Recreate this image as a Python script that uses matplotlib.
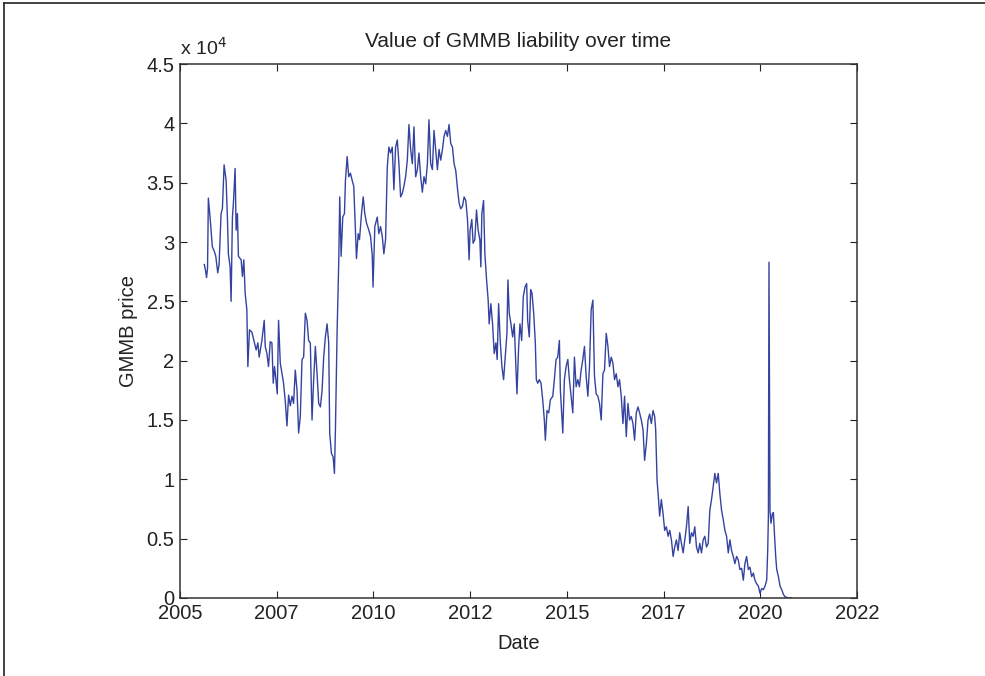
import matplotlib
matplotlib.use("Agg")
from matplotlib import pyplot as plt
from matplotlib.lines import Line2D
from matplotlib.ticker import FuncFormatter

plt.rcParams['font.family'] = ['Liberation Sans', 'DejaVu Sans']

# weekly-ish GMMB liability values, date in decimal years, value in units of 1e4
dates = [
    2005.630, 2005.661, 2005.687, 2005.713, 2005.734, 2005.778, 2005.837, 2005.889, 2005.926, 2005.977,
    2006.011, 2006.063, 2006.097, 2006.141, 2006.193, 2006.226, 2006.252, 2006.296, 2006.322, 2006.356,
    2006.382, 2006.426, 2006.452, 2006.486, 2006.511, 2006.581, 2006.615, 2006.651, 2006.685, 2006.729,
    2006.755, 2006.797, 2006.859, 2006.926, 2006.970, 2007.014, 2007.048, 2007.118, 2007.178, 2007.204,
    2007.248, 2007.289, 2007.333, 2007.377, 2007.411, 2007.445, 2007.481, 2007.515, 2007.549, 2007.593,
    2007.637, 2007.678, 2007.722, 2007.766, 2007.808, 2007.852, 2007.896, 2007.937, 2007.981, 2008.026,
    2008.067, 2008.111, 2008.155, 2008.197, 2008.241, 2008.285, 2008.326, 2008.370, 2008.414, 2008.456,
    2008.500, 2008.544, 2008.586, 2008.630, 2008.674, 2008.715, 2008.759, 2008.803, 2008.845, 2008.871,
    2008.915, 2008.959, 2008.993, 2009.019, 2009.063, 2009.104, 2009.130, 2009.166, 2009.208, 2009.252,
    2009.278, 2009.322, 2009.363, 2009.407, 2009.451, 2009.493, 2009.537, 2009.563, 2009.607, 2009.641,
    2009.693, 2009.737, 2009.778, 2009.822, 2009.882, 2009.926, 2009.970, 2009.991, 2010.037, 2010.100,
    2010.141, 2010.185, 2010.229, 2010.271, 2010.315, 2010.359, 2010.400, 2010.444, 2010.488, 2010.530,
    2010.574, 2010.618, 2010.660, 2010.704, 2010.748, 2010.789, 2010.833, 2010.877, 2010.919, 2010.963,
    2011.007, 2011.049, 2011.093, 2011.137, 2011.178, 2011.222, 2011.266, 2011.308, 2011.352, 2011.396,
    2011.437, 2011.481, 2011.525, 2011.567, 2011.611, 2011.655, 2011.697, 2011.741, 2011.785, 2011.826,
    2011.870, 2011.914, 2011.956, 2012.000, 2012.044, 2012.086, 2012.130, 2012.174, 2012.215, 2012.259,
    2012.303, 2012.345, 2012.389, 2012.433, 2012.474, 2012.500, 2012.544, 2012.578, 2012.622, 2012.666,
    2012.708, 2012.752, 2012.778, 2012.804, 2012.848, 2012.882, 2012.926, 2012.967, 2012.993, 2013.037,
    2013.081, 2013.123, 2013.167, 2013.200, 2013.237, 2013.278, 2013.322, 2013.366, 2013.408, 2013.452,
    2013.478, 2013.512, 2013.556, 2013.600, 2013.641, 2013.685, 2013.711, 2013.755, 2013.789, 2013.833,
    2013.875, 2013.919, 2013.962, 2013.988, 2014.030, 2014.066, 2014.100, 2014.144, 2014.186, 2014.212,
    2014.248, 2014.289, 2014.333, 2014.377, 2014.419, 2014.445, 2014.489, 2014.533, 2014.574, 2014.637,
    2014.678, 2014.722, 2014.766, 2014.808, 2014.834, 2014.896, 2014.937, 2014.981, 2015.026, 2015.067,
    2015.111, 2015.155, 2015.197, 2015.241, 2015.285, 2015.326, 2015.370, 2015.414, 2015.456, 2015.500,
    2015.544, 2015.586, 2015.630, 2015.674, 2015.715, 2015.759, 2015.803, 2015.845, 2015.889, 2015.933,
    2015.974, 2016.019, 2016.063, 2016.104, 2016.148, 2016.192, 2016.234, 2016.278, 2016.322, 2016.363,
    2016.407, 2016.451, 2016.493, 2016.537, 2016.581, 2016.622, 2016.666, 2016.710, 2016.752, 2016.796,
    2016.840, 2016.882, 2016.926, 2016.970, 2017.011, 2017.056, 2017.100, 2017.141, 2017.185, 2017.229,
    2017.271, 2017.297, 2017.333, 2017.367, 2017.400, 2017.444, 2017.488, 2017.530, 2017.574, 2017.618,
    2017.660, 2017.704, 2017.748, 2017.789, 2017.833, 2017.877, 2017.919, 2017.963, 2018.007, 2018.049,
    2018.093, 2018.137, 2018.178, 2018.222, 2018.266, 2018.308, 2018.352, 2018.396, 2018.437, 2018.481,
    2018.525, 2018.567, 2018.611, 2018.655, 2018.697, 2018.741, 2018.785, 2018.826, 2018.870, 2018.914,
    2018.956, 2019.000, 2019.044, 2019.086, 2019.130, 2019.174, 2019.215, 2019.259, 2019.303, 2019.345,
    2019.389, 2019.433, 2019.474, 2019.519, 2019.563, 2019.604, 2019.648, 2019.692, 2019.734, 2019.778,
    2019.822, 2019.863, 2019.907, 2019.952, 2019.993, 2020.037, 2020.081, 2020.123, 2020.167, 2020.193,
    2020.211, 2020.226, 2020.252, 2020.278, 2020.314, 2020.340, 2020.366, 2020.400, 2020.426, 2020.470,
    2020.512, 2020.556, 2020.600, 2020.641, 2020.729, 2020.815,
]

price_e4 = [
    2.81, 2.76, 2.70, 2.78, 3.37, 3.21, 2.96, 2.92, 2.88, 2.74,
    2.81, 3.24, 3.28, 3.65, 3.52, 3.21, 2.90, 2.79, 2.50, 3.21,
    3.33, 3.62, 3.10, 3.24, 2.88, 2.85, 2.71, 2.85, 2.57, 2.43,
    1.95, 2.26, 2.24, 2.15, 2.09, 2.15, 2.03, 2.17, 2.34, 2.12,
    2.06, 1.95, 2.16, 2.15, 1.81, 1.95, 1.84, 1.72, 2.34, 1.98,
    1.89, 1.81, 1.66, 1.45, 1.71, 1.62, 1.70, 1.64, 1.92, 1.75,
    1.39, 1.53, 2.01, 2.03, 2.40, 2.34, 2.17, 2.15, 1.50, 1.84,
    2.12, 1.89, 1.64, 1.61, 1.75, 2.03, 2.20, 2.31, 2.15, 1.39,
    1.22, 1.19, 1.05, 1.42, 2.26, 2.82, 3.38, 2.88, 3.21, 3.24,
    3.52, 3.72, 3.55, 3.58, 3.52, 3.47, 3.10, 2.86, 3.07, 3.02,
    3.24, 3.38, 3.24, 3.16, 3.10, 3.05, 2.89, 2.62, 3.13, 3.21,
    3.07, 3.13, 3.05, 2.90, 3.02, 3.63, 3.80, 3.75, 3.80, 3.44,
    3.80, 3.86, 3.66, 3.38, 3.41, 3.47, 3.55, 3.69, 3.99, 3.78,
    3.66, 3.97, 3.55, 3.61, 3.75, 3.55, 3.42, 3.55, 3.49, 3.66,
    4.03, 3.66, 3.61, 3.94, 3.78, 3.61, 3.78, 3.69, 3.78, 3.89,
    3.94, 3.89, 3.99, 3.83, 3.80, 3.66, 3.60, 3.45, 3.33, 3.28,
    3.30, 3.38, 3.35, 3.19, 2.85, 3.10, 3.19, 2.99, 3.02, 3.27,
    3.10, 3.02, 2.79, 3.24, 3.35, 2.90, 2.68, 2.51, 2.31, 2.48,
    2.31, 2.06, 2.15, 2.01, 2.48, 2.17, 1.95, 1.84, 2.03, 2.23,
    2.68, 2.40, 2.31, 2.20, 2.31, 1.95, 1.72, 2.12, 2.31, 2.17,
    2.54, 2.62, 2.65, 2.34, 2.20, 2.60, 2.57, 2.40, 2.15, 1.84,
    1.81, 1.84, 1.81, 1.67, 1.50, 1.33, 1.58, 1.56, 1.67, 1.70,
    1.84, 2.01, 2.03, 2.17, 1.75, 1.39, 1.84, 1.95, 2.01, 1.84,
    1.70, 1.56, 2.03, 1.78, 1.84, 1.78, 1.92, 2.01, 2.12, 1.87,
    1.70, 1.95, 2.43, 2.51, 1.87, 1.72, 1.70, 1.64, 1.50, 1.89,
    1.92, 2.23, 2.12, 1.95, 2.03, 1.98, 1.84, 1.89, 1.78, 1.84,
    1.70, 1.47, 1.70, 1.36, 1.64, 1.50, 1.53, 1.47, 1.33, 1.56,
    1.61, 1.56, 1.50, 1.42, 1.16, 1.30, 1.50, 1.55, 1.47, 1.58,
    1.53, 1.42, 0.99, 0.85, 0.69, 0.83, 0.71, 0.57, 0.60, 0.52,
    0.57, 0.49, 0.35, 0.43, 0.49, 0.40, 0.55, 0.46, 0.38, 0.49,
    0.60, 0.77, 0.46, 0.55, 0.52, 0.60, 0.43, 0.38, 0.46, 0.38,
    0.49, 0.52, 0.43, 0.46, 0.74, 0.83, 0.94, 1.05, 0.97, 1.05,
    0.88, 0.74, 0.66, 0.57, 0.52, 0.38, 0.49, 0.40, 0.35, 0.29,
    0.35, 0.32, 0.24, 0.25, 0.15, 0.29, 0.35, 0.24, 0.26, 0.18,
    0.21, 0.15, 0.12, 0.10, 0.04, 0.08, 0.07, 0.10, 0.15, 0.40,
    0.69, 2.83, 0.74, 0.63, 0.71, 0.72, 0.55, 0.35, 0.24, 0.18,
    0.10, 0.07, 0.03, 0.01, 0.00, 0.00,
]

x_ticks = [2005.0, 2007.5, 2010.0, 2012.5, 2015.0, 2017.5, 2020.0, 2022.5]
x_labels = ['2005', '2007', '2010', '2012', '2015', '2017', '2020', '2022']
y_ticks = [0, 0.5, 1, 1.5, 2, 2.5, 3, 3.5, 4, 4.5]

fig = plt.figure(figsize=(9.85, 6.76), dpi=100)
ax = fig.add_axes([0.1827, 0.1154, 0.6873, 0.7899])

ax.plot(dates, price_e4, color='#34439f', linewidth=1.0)

ax.set_xlim(2005.0, 2022.5)
ax.set_ylim(0, 4.5)
ax.set_xticks(x_ticks)
ax.set_xticklabels(x_labels)
ax.set_yticks(y_ticks)
ax.yaxis.set_major_formatter(FuncFormatter(lambda v, p: '%g' % v))

ax.tick_params(direction='in', length=5, width=0.8, top=True, right=True,
               labelsize=14.5, colors='#222222', pad=4)
for s in ax.spines.values():
    s.set_color('#333333')
    s.set_linewidth(1.1)

ax.set_title('Value of GMMB liability over time', fontsize=15, color='#222222', pad=12)
ax.set_xlabel('Date', fontsize=14.5, color='#222222', labelpad=8)
ax.set_ylabel('GMMB price', fontsize=14.5, color='#222222', labelpad=6)
ax.text(0.0, 1.01, r'x 10$^{4}$', transform=ax.transAxes, fontsize=14,
        color='#222222', ha='left', va='bottom')

# thin frame along the top and left edges of the figure
fig.add_artist(Line2D([0.004, 0.004], [0.0, 0.9955], transform=fig.transFigure,
                      color='#222222', linewidth=1.2))
fig.add_artist(Line2D([0.004, 1.0], [0.9955, 0.9955], transform=fig.transFigure,
                      color='#222222', linewidth=1.2))

fig.savefig('out.png', dpi=100)
